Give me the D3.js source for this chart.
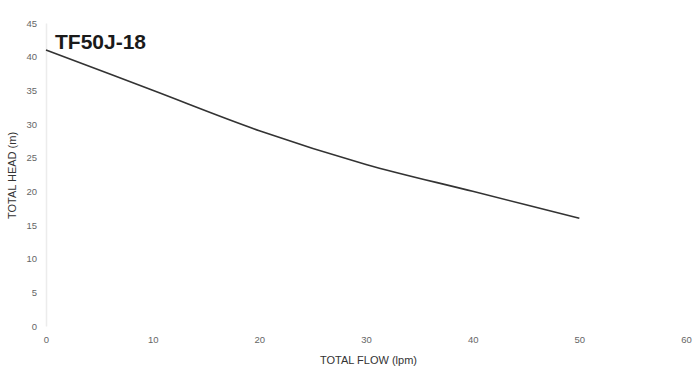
<!DOCTYPE html>
<html>
<head>
<meta charset="utf-8">
<script src="https://cdn.jsdelivr.net/npm/d3@7"></script>
<style>
  body { margin: 0; background: #fff; }
  svg { font-family: "Liberation Sans", Arial, sans-serif; }
</style>
</head>
<body>
<svg id="chart" width="700" height="375"></svg>
<script>
const flow = [0, 10, 20, 30, 40, 50]
const head = [41, 35, 29, 24, 20, 16]
const xTicks = [0, 10, 20, 30, 40, 50, 60]
const yTicks = [0, 5, 10, 15, 20, 25, 30, 35, 40, 45]
const title = 'TF50J-18'

const margins = { left: 46, right: 14, top: 23, bottom: 49 }
const width = 700 - margins.left - margins.right
const height = 375 - margins.top - margins.bottom

const svg = d3.select('#chart')
const g = svg.append('g')
  .attr('transform', `translate(${margins.left}, ${margins.top})`)

const x = d3.scaleLinear().domain([0, 60]).range([0, width])
const y = d3.scaleLinear().domain([0, 45]).range([height, 0])

// y axis: light vertical rule, no ticks
const yAxis = g.append('g')
  .call(d3.axisLeft(y).tickValues(yTicks).tickSize(0).tickPadding(9))
yAxis.select('.domain').attr('stroke', '#ececec').attr('stroke-width', 1.5)
yAxis.selectAll('text').attr('fill', '#666').attr('font-size', '9.5px')
  .attr('font-family', 'inherit')

// x axis: labels only
const xAxis = g.append('g')
  .attr('transform', `translate(0, ${height})`)
  .call(d3.axisBottom(x).tickValues(xTicks).tickSize(0).tickPadding(10))
xAxis.select('.domain').remove()
xAxis.selectAll('text').attr('fill', '#666').attr('font-size', '9.5px')
  .attr('font-family', 'inherit')

const data = flow.map((f, i) => ({ x: f, y: head[i] }))
const line = d3.line()
  .curve(d3.curveMonotoneX)
  .x(d => x(d.x))
  .y(d => y(d.y))

g.append('path')
  .datum(data)
  .attr('d', line)
  .attr('fill', 'none')
  .attr('stroke', '#333')
  .attr('stroke-width', 1.6)

svg.append('text')
  .attr('x', 55)
  .attr('y', 48.5)
  .attr('font-size', '21px')
  .attr('font-weight', 'bold')
  .attr('fill', '#1a1a1a')
  .text(title)

svg.append('text')
  .attr('x', 368.5)
  .attr('y', 364)
  .attr('text-anchor', 'middle')
  .attr('font-size', '11px')
  .attr('fill', '#333')
  .text('TOTAL FLOW (lpm)')

svg.append('text')
  .attr('transform', 'translate(16, 175.5) rotate(-90)')
  .attr('text-anchor', 'middle')
  .attr('font-size', '11px')
  .attr('fill', '#333')
  .text('TOTAL HEAD (m)')
</script>
</body>
</html>
